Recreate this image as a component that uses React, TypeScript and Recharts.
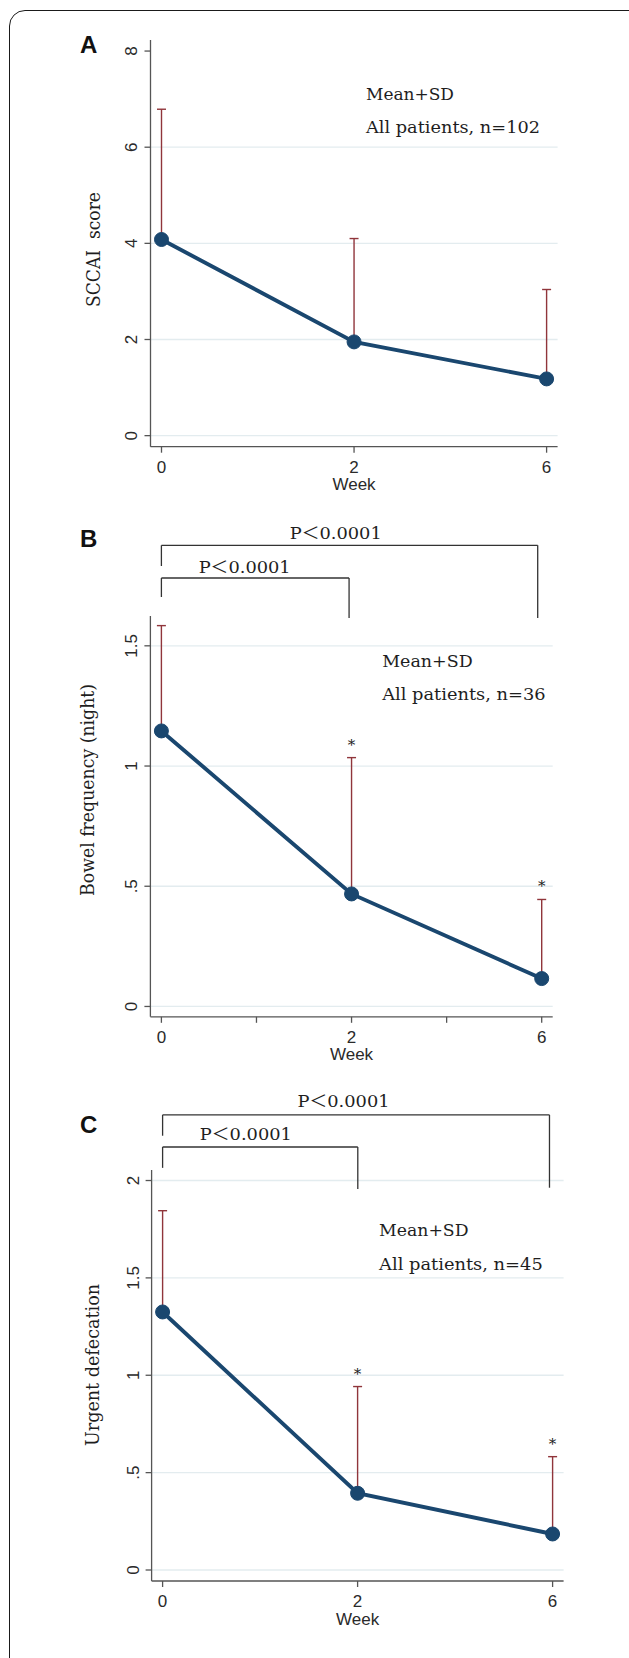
import React from "react";
import { ErrorBar, LabelList, Line, LineChart, ReferenceDot, ReferenceLine, XAxis, YAxis } from "recharts";

// x categories
const WEEKS = ["0", "2", "6"];

// A: SCCAI score, n=102
const SCCAI_MEAN = [4.08, 1.95, 1.18];
const SCCAI_SD = [2.71, 2.15, 1.86];

// B: bowel frequency (night), n=36
const NIGHT_MEAN = [1.146, 0.468, 0.116];
const NIGHT_SD = [0.438, 0.567, 0.329];

// C: urgent defecation, n=45
const URGENT_MEAN = [1.325, 0.394, 0.185];
const URGENT_SD = [0.52, 0.548, 0.397];

const STARS = ["", "*", "*"];
const NO_STARS = ["", "", ""];

const NAVY = "#1a476f";
const MAROON = "#90353b";
const GRID = "#e3ecef";
const AXIS = "#555";
const SANS = "'Liberation Sans', Arial, sans-serif";
const SERIF = "'DejaVu Serif', 'Liberation Serif', 'Noto Sans CJK SC', serif";
const YW = 70;
const XH = 40;

type Bracket = { to: number; level: number; leftEnd: number; rightEnd: number; tx: number; ty: number };

type Panel = {
  letter: string;
  letterY: number;
  top: number;
  height: number;
  plot: { left: number; right: number; top: number; bottom: number };
  yDomain: [number, number];
  yTicks: number[];
  grid: number[];
  yFmt: (v: number) => string;
  xTicks: number[];
  title: string;
  titleX: number;
  titleY: number;
  titleLen: number;
  mean: number[];
  sd: number[];
  stars: string[];
  n: number;
  note: { x: number; y1: number; y2: number; w1: number; w2: number };
  brackets: Bracket[];
};

const decimalFmt = (v: number) => (v === 0 ? "0" : v < 1 ? String(v).replace(/^0/, "") : String(v));

const PANELS: Panel[] = [
  {
    letter: "A",
    letterY: 53,
    top: 20,
    height: 490,
    plot: { left: 150.5, right: 557.6, top: 40, bottom: 446.7 },
    yDomain: [-0.23, 8.23],
    yTicks: [0, 2, 4, 6, 8],
    grid: [0, 2, 4, 6],
    yFmt: (v) => String(v),
    xTicks: [0, 1, 2],
    title: "SCCAI  score",
    titleX: 100,
    titleY: 249.5,
    titleLen: 115,
    mean: SCCAI_MEAN,
    sd: SCCAI_SD,
    stars: NO_STARS,
    n: 102,
    note: { x: 1.062, y1: 6.99, y2: 6.29, w1: 88, w2: 174 },
    brackets: [],
  },
  {
    letter: "B",
    letterY: 546.5,
    top: 520,
    height: 550,
    plot: { left: 150.4, right: 552.7, top: 616, bottom: 1016.8 },
    yDomain: [-0.043, 1.624],
    yTicks: [0, 0.5, 1, 1.5],
    grid: [0, 0.5, 1, 1.5],
    yFmt: decimalFmt,
    xTicks: [0, 0.5, 1, 1.5, 2],
    title: "Bowel frequency (night)",
    titleX: 94,
    titleY: 790,
    titleLen: 212,
    mean: NIGHT_MEAN,
    sd: NIGHT_SD,
    stars: STARS,
    n: 36,
    note: { x: 1.161, y1: 1.413, y2: 1.275, w1: 90.5, w2: 163.5 },
    brackets: [
      { to: 1.979, level: 1.918, leftEnd: 1.832, rightEnd: 1.616, tx: 0.675, ty: 1.944 },
      { to: 0.987, level: 1.782, leftEnd: 1.703, rightEnd: 1.616, tx: 0.196, ty: 1.803 },
    ],
  },
  {
    letter: "C",
    letterY: 1133,
    top: 1080,
    height: 560,
    plot: { left: 151.6, right: 563.6, top: 1170, bottom: 1581 },
    yDomain: [-0.0565, 2.054],
    yTicks: [0, 0.5, 1, 1.5, 2],
    grid: [0, 0.5, 1, 1.5, 2],
    yFmt: decimalFmt,
    xTicks: [0, 1, 2],
    title: "Urgent defecation",
    titleX: 99,
    titleY: 1365,
    titleLen: 162,
    mean: URGENT_MEAN,
    sd: URGENT_SD,
    stars: STARS,
    n: 45,
    note: { x: 1.11, y1: 1.715, y2: 1.542, w1: 89.5, w2: 163.7 },
    brackets: [
      { to: 1.984, level: 2.337, leftEnd: 2.23, rightEnd: 1.963, tx: 0.692, ty: 2.378 },
      { to: 1.001, level: 2.172, leftEnd: 2.065, rightEnd: 1.957, tx: 0.191, ty: 2.206 },
    ],
  },
];

// text drawn from the reference dot's position, left anchored on the baseline
const textAt = (text: string, width: number, size: number) => (props: any) => {
  const vb = props.viewBox || {};
  const x = (vb.x ?? vb.cx ?? 0) + (vb.width ?? 0) / 2;
  const y = (vb.y ?? vb.cy ?? 0) + (vb.height ?? 0) / 2;
  return (
    <text x={x} y={y} fontFamily={SERIF} fontSize={size} fill="#1e1e1e" textLength={width} lengthAdjust="spacingAndGlyphs">
      {text}
    </text>
  );
};

function YTick(props: any) {
  const { x, y, payload, fmt } = props;
  const bx = x - 5;
  return (
    <text x={bx} y={y} transform={`rotate(-90 ${bx} ${y})`} textAnchor="middle" fontFamily={SANS} fontSize={17} fill="#2a2a2a">
      {fmt(payload.value)}
    </text>
  );
}

function StarLabel(props: any) {
  const { x, y, value } = props;
  if (!value) return null;
  return (
    <text x={x} y={y - 8} textAnchor="middle" fontFamily={SERIF} fontSize={15} fill="#222">
      {value}
    </text>
  );
}

function PanelChart({ p }: { p: Panel }) {
  const rows = WEEKS.map((w, i) => ({ pos: i, week: w, mean: p.mean[i], sd: p.sd[i], upper: p.mean[i] + p.sd[i], star: p.stars[i] }));
  const margin = {
    top: p.plot.top - p.top,
    left: p.plot.left - YW,
    right: 629 - p.plot.right,
    bottom: p.top + p.height - p.plot.bottom - XH,
  };
  const titleY = p.titleY - p.top;
  return (
    <div style={{ position: "absolute", left: 0, top: p.top }}>
      <LineChart width={629} height={p.height} data={rows} margin={margin} style={{ overflow: "visible" }}>
        {p.grid.map((v) => (
          <ReferenceLine key={"g" + v} y={v} stroke={GRID} strokeWidth={1.3} ifOverflow="visible" />
        ))}
        <XAxis
          dataKey="pos"
          type="number"
          domain={[0, 2]}
          ticks={p.xTicks}
          interval={0}
          padding={{ left: 11, right: 11 }}
          height={XH}
          tickSize={6}
          tickMargin={8}
          tickFormatter={(v: number) => (Number.isInteger(v) ? WEEKS[v] : "")}
          tick={{ fill: "#2a2a2a", fontSize: 17, fontFamily: SANS }}
          stroke={AXIS}
          strokeWidth={1.3}
          label={(props: any) => {
            const vb = props.viewBox || {};
            return (
              <text x={vb.x + vb.width / 2} y={vb.y + 43.5} textAnchor="middle" fontFamily={SANS} fontSize={17} fill="#2a2a2a">
                Week
              </text>
            );
          }}
        />
        <YAxis
          type="number"
          domain={p.yDomain}
          ticks={p.yTicks}
          interval={0}
          allowDataOverflow
          width={YW}
          tickSize={6}
          tickMargin={2}
          tick={<YTick fmt={p.yFmt} />}
          stroke={AXIS}
          strokeWidth={1.3}
          label={() => (
            <text
              x={p.titleX}
              y={titleY}
              transform={`rotate(-90 ${p.titleX} ${titleY})`}
              textAnchor="middle"
              fontFamily={SERIF}
              fontSize={19}
              fill="#1e1e1e"
              textLength={p.titleLen}
              lengthAdjust="spacingAndGlyphs"
              style={{ whiteSpace: "pre" }}
            >
              {p.title}
            </text>
          )}
        />
        <Line dataKey="mean" stroke={NAVY} strokeWidth={3.9} dot={{ r: 7, fill: NAVY, stroke: NAVY, strokeWidth: 1 }} activeDot={false} isAnimationActive={false} />
        <Line dataKey="mean" stroke="none" dot={false} activeDot={false} isAnimationActive={false}>
          <ErrorBar dataKey={(d: any) => [0, d.sd]} width={4.5} stroke={MAROON} strokeWidth={1.4} />
        </Line>
        <Line dataKey="upper" stroke="none" dot={false} activeDot={false} isAnimationActive={false}>
          <LabelList dataKey="star" content={StarLabel} />
        </Line>
        <ReferenceDot x={p.note.x} y={p.note.y1} r={0} fill="none" stroke="none" ifOverflow="visible" label={textAt("Mean+SD", p.note.w1, 17.5)} />
        <ReferenceDot x={p.note.x} y={p.note.y2} r={0} fill="none" stroke="none" ifOverflow="visible" label={textAt(`All patients, n=${p.n}`, p.note.w2, 17.5)} />
        {p.brackets.map((b, i) => [
          <ReferenceLine key={"t" + i} segment={[{ x: 0, y: b.level }, { x: b.to, y: b.level }]} stroke="#333" strokeWidth={1.3} ifOverflow="visible" />,
          <ReferenceLine key={"l" + i} segment={[{ x: 0, y: b.level }, { x: 0, y: b.leftEnd }]} stroke="#333" strokeWidth={1.3} ifOverflow="visible" />,
          <ReferenceLine key={"r" + i} segment={[{ x: b.to, y: b.level }, { x: b.to, y: b.rightEnd }]} stroke="#333" strokeWidth={1.3} ifOverflow="visible" />,
          <ReferenceDot key={"p" + i} x={b.tx} y={b.ty} r={0} fill="none" stroke="none" ifOverflow="visible" label={textAt("P＜0.0001", 92, 16.5)} />,
        ])}
      </LineChart>
    </div>
  );
}

export default function App() {
  return (
    <div style={{ position: "absolute", left: 0, top: 0, width: 629, height: 1658, overflow: "hidden", background: "#fff" }}>
      <div
        style={{
          position: "absolute",
          left: 9,
          top: 10,
          width: 660,
          height: 1700,
          border: "1.5px solid #1a1a1a",
          borderRadius: 16,
          boxSizing: "border-box",
        }}
      />
      <svg width={629} height={1658} style={{ position: "absolute", left: 0, top: 0 }}>
        {PANELS.map((p) => (
          <text key={p.letter} x={80} y={p.letterY} fontFamily={SANS} fontWeight="bold" fontSize={24} fill="#111">
            {p.letter}
          </text>
        ))}
      </svg>
      {PANELS.map((p) => (
        <PanelChart key={p.letter} p={p} />
      ))}
    </div>
  );
}
